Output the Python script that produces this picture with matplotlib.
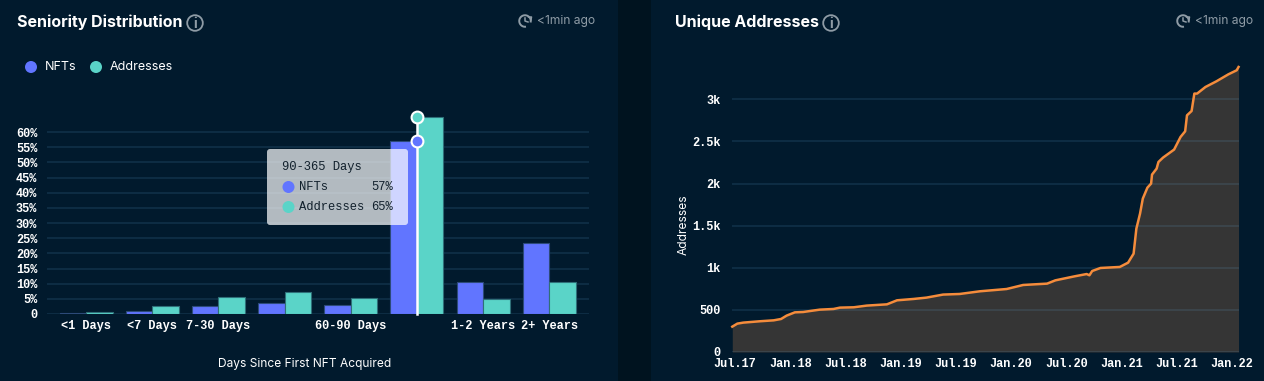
import matplotlib
matplotlib.use('Agg')
import matplotlib.pyplot as plt
import numpy as np
from matplotlib.patches import Circle, FancyBboxPatch, Rectangle, Arc

# seniority chart
categories = ['<1 Days', '<7 Days', '7-30 Days', '30-60 Days', '60-90 Days',
              '90-365 Days', '1-2 Years', '2+ Years']
shown_labels = ['<1 Days', '<7 Days', '7-30 Days', '', '60-90 Days', '', '1-2 Years', '2+ Years']
nfts = [0.2, 1.0, 2.7, 3.7, 3.0, 57, 10.7, 23.3]
addresses = [0.5, 2.5, 5.6, 7.1, 5.4, 65, 5.1, 10.4]
pct_ticks = [0, 5, 10, 15, 20, 25, 30, 35, 40, 45, 50, 55, 60]

# unique addresses chart, x is months since Jul.17
months = [-0.3, 0.25, 0.9, 2.7, 4.2, 5, 5.6, 6.5, 7.4, 9.2, 10.7, 11.4, 12.9, 14.3, 16.5,
          17.6, 19.4, 20.8, 22.6, 24.4, 26.6, 29.5, 31.3, 33.9, 34.8, 36.9, 38.2, 38.5,
          38.8, 39.7, 41.8, 42.7, 43.3, 43.6, 44, 44.3, 44.8, 45.2, 45.3, 45.8, 46, 46.5,
          47.7, 48.4, 48.9, 49.1, 49.6, 49.9, 50.2, 51.1, 52.3, 53.6, 54.5, 54.7]
unique = [301, 337, 349, 365, 376, 392, 432, 471, 475, 503, 511, 527, 531, 551, 566,
          614, 630, 646, 682, 689, 721, 748, 796, 812, 851, 899, 926, 911,
          962, 998, 1010, 1061, 1168, 1465, 1644, 1822, 1952, 2000, 2107, 2178, 2257, 2309,
          2404, 2554, 2621, 2811, 2862, 3069, 3069, 3147, 3215, 3298, 3346, 3385]
date_labels = ['Jul.17', 'Jan.18', 'Jul.18', 'Jan.19', 'Jul.19', 'Jan.20', 'Jul.20',
               'Jan.21', 'Jul.21', 'Jan.22']
date_ticks = [0, 6, 12, 18, 24, 30, 36, 42, 48, 54]
count_ticks = [0, 500, 1000, 1500, 2000, 2500, 3000]
count_labels = ['0', '500', '1k', '1.5k', '2k', '2.5k', '3k']

W, H = 1264, 381
PANEL = '#011a2d'
GAP = '#00131f'
BLUE = '#6175ff'
TEAL = '#5ad4c8'
ORANGE = '#f58c3c'
ICON = '#8f9ca6'
MONO = 'Liberation Mono'


def px_axes(left, top, right, bottom):
    ax = fig.add_axes([left / W, 1 - bottom / H, (right - left) / W, (bottom - top) / H])
    ax.set_facecolor('none')
    for s in ax.spines.values():
        s.set_visible(False)
    ax.tick_params(length=0, colors='white')
    return ax


def style_ticks(ax, pad_x, pad_y):
    ax.tick_params(axis='x', pad=pad_x)
    ax.tick_params(axis='y', pad=pad_y)
    for lb in ax.get_xticklabels() + ax.get_yticklabels():
        lb.set_fontfamily(MONO)
        lb.set_fontweight('bold')
        lb.set_fontsize(8.6)
        lb.set_color('white')


fig = plt.figure(figsize=(W / 100, H / 100), dpi=100, facecolor=GAP)

# panels behind everything
bg = fig.add_axes([0, 0, 1, 1], zorder=-1)
bg.set_xlim(0, W)
bg.set_ylim(H, 0)
bg.axis('off')
bg.add_patch(Rectangle((0, 0), 618, H, color=PANEL, lw=0))
bg.add_patch(Rectangle((651, 0), W - 651, H, color=PANEL, lw=0))

# left chart
ax1 = px_axes(47, 116, 589, 314)
x = np.arange(len(categories))
bw = 0.4
ax1.bar(x - bw / 2, nfts, bw, color=BLUE, edgecolor='#2c4a78', linewidth=0.8, zorder=2)
ax1.bar(x + bw / 2, addresses, bw, color=TEAL, edgecolor='#2f6f78', linewidth=0.8, zorder=2)
ax1.set_xlim(-0.59, 7.6)
ax1.set_ylim(0, 65.3)
ax1.set_yticks(pct_ticks)
ax1.set_yticklabels(['0' if t == 0 else '%d%%' % t for t in pct_ticks])
ax1.set_xticks(x)
ax1.set_xticklabels(shown_labels)
ax1.grid(axis='y', color='#64aadc', alpha=0.14, lw=1.3, zorder=0)
ax1.set_axisbelow(True)
style_ticks(ax1, 4, 7)

# hover line and markers on the 90-365 group
hover = categories.index('90-365 Days')
ax1.plot([hover, hover], [0, addresses[hover]], color='white', lw=1.8, zorder=3, clip_on=False)
ax1.plot(hover, nfts[hover], 'o', ms=8.5, mfc=BLUE, mec='white', mew=1.5, zorder=4, clip_on=False)
ax1.plot(hover, addresses[hover], 'o', ms=8.5, mfc=TEAL, mec='white', mew=1.5, zorder=4, clip_on=False)

# right chart
ax2 = px_axes(732, 62, 1239, 352)
ax2.fill_between(months, unique, 0, color='#353535', lw=0, zorder=2)
ax2.plot(months, unique, color=ORANGE, lw=1.8, zorder=3, clip_on=False)
ax2.set_xlim(-0.33, 54.75)
ax2.set_ylim(0, 290 / 0.0842)
ax2.set_yticks(count_ticks)
ax2.set_yticklabels(count_labels)
ax2.set_xticks(date_ticks)
ax2.set_xticklabels(date_labels)
ax2.grid(axis='y', color='#64aadc', alpha=0.14, lw=1.3)
ax2.set_axisbelow(False)
style_ticks(ax2, 4, 8)

# overlay for titles, legend, tooltip
ov = fig.add_axes([0, 0, 1, 1], zorder=5)
ov.set_xlim(0, W)
ov.set_ylim(H, 0)
ov.axis('off')
ov.set_facecolor('none')


def info_icon(cx, cy):
    ov.add_patch(Circle((cx, cy), 7.8, fill=False, ec=ICON, lw=1.3))
    ov.text(cx, cy + 0.5, 'i', color=ICON, fontsize=10, fontweight='bold',
            family='Inter', ha='center', va='center')


def clock_icon(cx, cy):
    ov.add_patch(Arc((cx, cy), 11.5, 11.5, theta1=-280, theta2=15, ec=ICON, lw=1.4))
    ov.plot([cx + 3.5, cx + 6.5, cx + 6], [cy - 4, cy - 4, cy - 1], color=ICON, lw=1.1)
    ov.plot([cx, cx, cx + 3], [cy - 3, cy, cy + 1], color=ICON, lw=1.1)


ov.text(17, 22, 'Seniority Distribution', color='white', fontsize=11.5, fontweight='bold',
        family='Inter', va='center')
info_icon(195, 23)
ov.text(675, 22, 'Unique Addresses', color='white', fontsize=11.5, fontweight='bold',
        family='Inter', va='center')
info_icon(831, 23)

for cx, tx in [(525, 537), (1183, 1195)]:
    clock_icon(cx, 21)
    ov.text(tx, 21, '<1min ago', color=ICON, fontsize=8.7, family='Inter', va='center')

ov.add_patch(Circle((31, 67), 6, color=BLUE, lw=0))
ov.text(45, 67.5, 'NFTs', color='white', fontsize=9, family='Inter', va='center')
ov.add_patch(Circle((96, 67), 6, color=TEAL, lw=0))
ov.text(110, 67.5, 'Addresses', color='white', fontsize=9, family='Inter', va='center')

ov.text(305, 364, 'Days Since First NFT Acquired', color='white', fontsize=8.6, family='Inter',
        ha='center', va='center')
ov.text(684, 225, 'Addresses', color='white', fontsize=8.6, family='Inter', rotation=90,
        ha='center', va='center')

# tooltip
ov.add_patch(FancyBboxPatch((267, 149), 141, 76, boxstyle='round,pad=0,rounding_size=3',
                            fc='white', lw=0, alpha=0.7))
ov.text(282, 167, categories[hover], color='#11202c', fontsize=8.7, family=MONO, va='center')
ov.add_patch(Circle((288.5, 187), 6, color=BLUE, lw=0))
ov.text(299, 187, 'NFTs', color='#11202c', fontsize=8.7, family=MONO, va='center')
ov.text(393, 187, '%d%%' % nfts[hover], color='#11202c', fontsize=8.7, family=MONO,
        ha='right', va='center')
ov.add_patch(Circle((288.5, 207), 6, color=TEAL, lw=0))
ov.text(299, 207, 'Addresses', color='#11202c', fontsize=8.7, family=MONO, va='center')
ov.text(393, 207, '%d%%' % addresses[hover], color='#11202c', fontsize=8.7, family=MONO,
        ha='right', va='center')

fig.savefig('out.png', dpi=100, facecolor=fig.get_facecolor())
